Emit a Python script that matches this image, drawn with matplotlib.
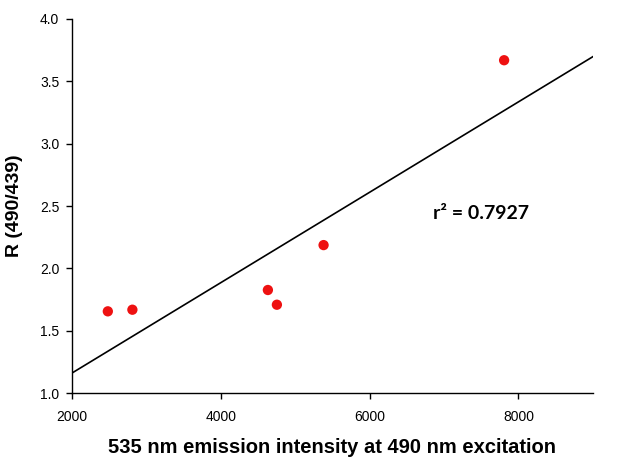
import numpy as np
import matplotlib
matplotlib.use("Agg")
import matplotlib.pyplot as plt

# emission intensity (535 nm, exc. 490 nm) vs ratio R(490/439)
intensity = [2484, 2814, 4634, 4755, 5382, 7807]
ratio = [1.656, 1.669, 1.827, 1.709, 2.187, 3.669]
r2_label = "r\u00b2 = 0.7927"

plt.rcParams['font.family'] = ['Liberation Sans', 'DejaVu Sans']

fig = plt.figure(figsize=(6.41, 4.62), dpi=100)
ax = fig.add_axes([0.112, 0.149, 0.813, 0.810])

# linear fit
slope, icpt = np.polyfit(intensity, ratio, 1)
xfit = np.array([2000, 9000])
ax.plot(xfit, slope * xfit + icpt, color='black', lw=1.2, zorder=2)

ax.scatter(intensity, ratio, s=55, color='#ee1111', edgecolors='none', zorder=3)

ax.text(6850, 2.44, r2_label, fontsize=14, fontweight='bold',
        family=['Lato', 'DejaVu Sans'], va='center', ha='left')

ax.set_xlim(2000, 9000)
ax.set_ylim(1.0, 4.0)
ax.set_xticks([2000, 4000, 6000, 8000])
ax.set_yticks(np.arange(1.0, 4.01, 0.5))
ax.yaxis.set_major_formatter(matplotlib.ticker.FormatStrFormatter('%.1f'))

for s in ['top', 'right']:
    ax.spines[s].set_visible(False)
for s in ['left', 'bottom']:
    ax.spines[s].set_linewidth(1.0)
ax.tick_params(direction='out', length=4, width=1, labelsize=10, pad=5)
ax.tick_params(axis='x', pad=8)

ax.set_xlabel("535 nm emission intensity at 490 nm excitation", fontsize=14.5,
              fontweight='bold', labelpad=10)
ax.set_ylabel("R (490/439)", fontsize=14, fontweight='bold', labelpad=12)

fig.savefig("out.png", dpi=100)
